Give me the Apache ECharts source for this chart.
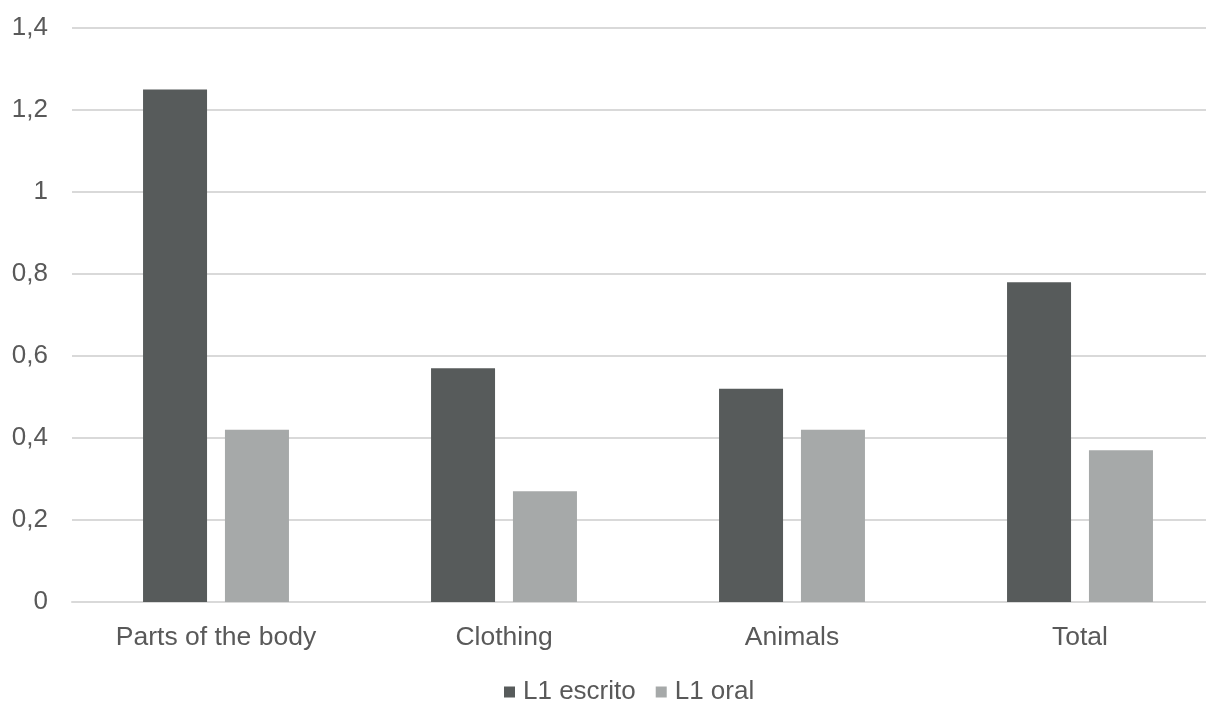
<!DOCTYPE html>
<html>
<head>
<meta charset="utf-8">
<script src="https://cdn.jsdelivr.net/npm/echarts@6/dist/echarts.min.js"></script>
<style>
  html, body { margin: 0; padding: 0; background: #ffffff; overflow: hidden; }
  #wrap { width: 1206px; height: 701px; overflow: hidden; }
  #chart { width: 1224px; height: 701px; }
</style>
</head>
<body>
<div id="wrap"><div id="chart"></div></div>
<script>
// Categories and series values
const categories = ['Parts of the body', 'Clothing', 'Animals', 'Total'];
const escritoValues = [1.25, 0.57, 0.52, 0.78];
const oralValues = [0.42, 0.27, 0.42, 0.37];
const seriesNames = ['L1 escrito', 'L1 oral'];

const FONT = '"Liberation Sans", Arial, sans-serif';
const TEXT = '#595959';
const GRID_LINE = '#d9d9d9';

const chart = echarts.init(document.getElementById('chart'), null, { renderer: 'canvas' });

chart.setOption({
  animation: false,
  backgroundColor: '#ffffff',
  textStyle: { fontFamily: FONT },
  // plot area runs slightly past the visible right edge
  grid: { left: 72, top: 28, height: 574, width: 1152, containLabel: false },
  legend: {
    data: seriesNames,
    left: 499,
    top: 674,
    icon: 'rect',
    itemWidth: 11,
    itemHeight: 11,
    itemGap: 20,
    textStyle: { color: TEXT, fontSize: 26, fontFamily: FONT, padding: [0, 0, 0, 3] }
  },
  xAxis: {
    type: 'category',
    data: categories,
    axisLine: { show: true, lineStyle: { color: GRID_LINE, width: 2 } },
    axisTick: { show: false },
    axisLabel: { color: TEXT, fontSize: 26.5, fontFamily: FONT, margin: 22 }
  },
  yAxis: {
    type: 'value',
    min: 0,
    max: 1.4,
    interval: 0.2,
    axisLine: { show: false },
    axisTick: { show: false },
    splitLine: { lineStyle: { color: GRID_LINE, width: 2 } },
    axisLabel: {
      color: TEXT,
      fontSize: 26,
      fontFamily: FONT,
      margin: 24,
      formatter: v => (Math.round(v * 10) / 10).toString().replace('.', ',')
    }
  },
  series: [
    {
      name: seriesNames[0],
      type: 'bar',
      data: escritoValues,
      barWidth: 64,
      barGap: '28%',
      itemStyle: { color: '#575b5b' }
    },
    {
      name: seriesNames[1],
      type: 'bar',
      data: oralValues,
      barWidth: 64,
      itemStyle: { color: '#a6a9a9' }
    }
  ]
});
</script>
</body>
</html>
